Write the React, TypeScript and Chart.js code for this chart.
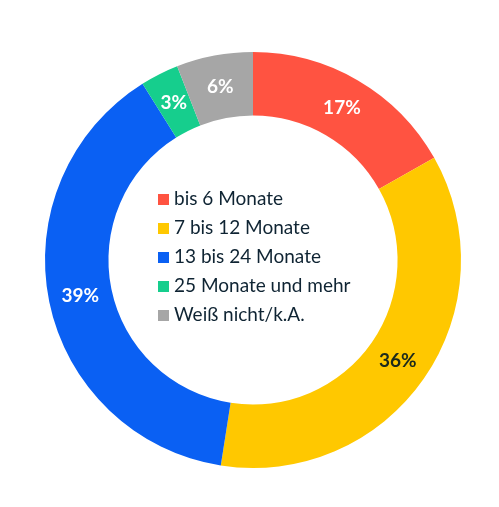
import { Chart, registerables } from "chart.js";
import { useEffect, useRef } from "react";

Chart.register(...registerables);

const categories = [
  "bis 6 Monate",
  "7 bis 12 Monate",
  "13 bis 24 Monate",
  "25 Monate und mehr",
  "Weiß nicht/k.A.",
];
const shares = [17, 36, 39, 3, 6];
const colors = ["#FF5341", "#FFC800", "#0A60F3", "#16CE8D", "#A6A6A6"];
const labelColors = ["#ffffff", "#1c2a1c", "#ffffff", "#ffffff", "#ffffff"];

// percentage labels at the middle of each ring segment
const sliceLabels = {
  id: "sliceLabels",
  afterDatasetsDraw(chart: Chart) {
    const ctx = chart.ctx;
    const meta = chart.getDatasetMeta(0);
    ctx.save();
    ctx.font = "bold 19px Lato";
    ctx.textAlign = "center";
    ctx.textBaseline = "middle";
    meta.data.forEach((arc, i) => {
      const p = (arc as any).tooltipPosition();
      ctx.fillStyle = labelColors[i];
      ctx.fillText(shares[i] + "%", p.x, p.y);
    });
    ctx.restore();
  },
};

// legend drawn inside the hole
const centerLegend = {
  id: "centerLegend",
  afterDraw(chart: Chart) {
    const ctx = chart.ctx;
    ctx.save();
    ctx.font = "19px Lato";
    ctx.textBaseline = "middle";
    categories.forEach((name, i) => {
      const y = 199 + i * 29;
      ctx.fillStyle = colors[i];
      ctx.fillRect(158, y - 5, 11, 11);
      ctx.fillStyle = "#0f2433";
      ctx.fillText(name, 174, y);
    });
    ctx.restore();
  },
};

export default function App() {
  const canvasRef = useRef<HTMLCanvasElement | null>(null);
  const chartRef = useRef<Chart | null>(null);

  useEffect(() => {
    if (!canvasRef.current) {
      return;
    }
    chartRef.current?.destroy();

    chartRef.current = new Chart(canvasRef.current, {
      type: "doughnut",
      data: {
        labels: categories,
        datasets: [
          {
            data: shares,
            backgroundColor: colors,
            borderWidth: 0,
            hoverOffset: 0,
            offset: 0,
          },
        ],
      },
      options: {
        responsive: false,
        animation: false,
        cutout: "69.5%",
        layout: { padding: { left: 45, right: 38, top: 52, bottom: 39 } },
        plugins: {
          legend: { display: false },
          tooltip: { enabled: false },
        },
      },
      plugins: [sliceLabels, centerLegend],
    });

    return () => {
      chartRef.current?.destroy();
      chartRef.current = null;
    };
  }, []);

  return (
    <div style={{ position: "absolute", left: 0, top: 0, width: 499, height: 507, background: "#fff" }}>
      <canvas ref={canvasRef} width={499} height={507} />
    </div>
  );
}
